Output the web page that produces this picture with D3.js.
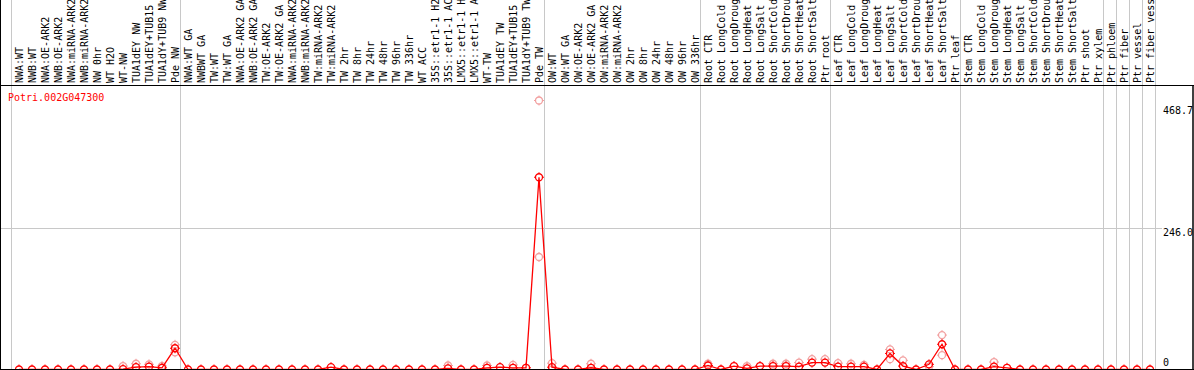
<!DOCTYPE html>
<html>
<head>
<meta charset="utf-8">
<script src="https://cdn.jsdelivr.net/npm/d3@7"></script>
<style>
  html, body { margin: 0; padding: 0; background: #fff; }
  svg { display: block; }
  text { font-family: "DejaVu Sans Mono", monospace; font-size: 10px; }
</style>
</head>
<body>
<div id="main"></div>
<script>
const w = 1194;
const h = 370;

// categories
const labels = [
  'NWA:WT', 'NWB:WT', 'NWA:OE-ARK2', 'NWB:OE-ARK2', 'NWA:miRNA-ARK2', 'NWB:miRNA-ARK2', 'NW 0hr', 'WT H2O', 'WT-NW',
  'TUA1dEY NW', 'TUA1dEY+TUB15 NW', 'TUA1dY+TUB9 NW', 'Pde NW',
  'NWA:WT GA', 'NWBWT GA', 'TW:WT', 'TW:WT GA', 'NWA:OE-ARK2 GA', 'NWB:OE-ARK2 GA', 'TW:OE-ARK2', 'TW:OE-ARK2 GA',
  'NWA:miRNA-ARK2 GA', 'NWB:miRNA-ARK2 GA', 'TW:miRNA-ARK2', 'TW:miRNA-ARK2 GA', 'TW 2hr', 'TW 8hr', 'TW 24hr',
  'TW 48hr', 'TW 96hr', 'TW 336hr', 'WT ACC', '35S::etr1-1 H2O', '35S::etr1-1 ACC', 'LMX5::etr1-1 H2O',
  'LMX5::etr1-1 ACC', 'WT-TW', 'TUA1dEY TW', 'TUA1dEY+TUB15 TW', 'TUA1dY+TUB9 TW', 'Pde TW',
  'OW:WT', 'OW:WT GA', 'OW:OE-ARK2', 'OW:OE-ARK2 GA', 'OW:miRNA-ARK2', 'OW:miRNA-ARK2 GA', 'OW 2hr', 'OW 8hr',
  'OW 24hr', 'OW 48hr', 'OW 96hr', 'OW 336hr',
  'Root CTR', 'Root LongCold', 'Root LongDrought', 'Root LongHeat', 'Root LongSalt', 'Root ShortCold',
  'Root ShortDrought', 'Root ShortHeat', 'Root ShortSalt', 'Ptr root',
  'Leaf CTR', 'Leaf LongCold', 'Leaf LongDrought', 'Leaf LongHeat', 'Leaf LongSalt', 'Leaf ShortCold',
  'Leaf ShortDrought', 'Leaf ShortHeat', 'Leaf ShortSalt', 'Ptr leaf',
  'Stem CTR', 'Stem LongCold', 'Stem LongDrought', 'Stem LongHeat', 'Stem LongSalt', 'Stem ShortCold',
  'Stem ShortDrought', 'Stem ShortHeat', 'Stem ShortSalt', 'Ptr shoot', 'Ptr xylem',
  'Ptr phloem', 'Ptr fiber', 'Ptr vessel', 'Ptr fiber vessel'
];

// index where each group starts (last entry = end)
const groupBreaks = [0, 13, 41, 53, 63, 73, 84, 85, 86, 87, 88];

// mean expression
const means = [
  0, 0, 0, 0, 0, 0, 0, 0, 0.5, 4, 5, 3, 37,
  0, 0, 0, 0, 0, 0, 0, 0, 0, 0, 0, 4, 0, 0, 0, 0, 0, 0, 0, 0, 2, 0, 0, 3, 4, 3, 3, 335,
  4, 0, 0, 3, 0, 0, 0, 0, 0, 0, 0, 0,
  7, 0, 6, 2, 6, 6, 6, 5, 12, 12,
  5, 5, 5, 0, 28, 6, 0, 9, 44, 0,
  0, 0, 5, 3, 0, 0, 0, 0, 0, 0, 0,
  0, 0, 0, 0
];

// replicate values that stand apart from the mean: [index, value]
const reps = [
  [8, 6], [9, 10], [10, 9], [11, 6], [12, 43], [12, 30],
  [33, 7], [36, 7], [38, 8],
  [40, 468.7], [40, 196], [41, 11], [41, 0], [44, 10],
  [53, 10], [56, 6], [58, 10], [59, 10], [60, 12], [61, 18], [62, 18],
  [63, 11], [64, 10], [65, 8], [67, 35], [67, 18], [68, 16], [70, 5],
  [71, 60], [71, 25], [75, 13]
];

const yTicks = [0, 246.0, 468.7];
const title = 'Potri.002G047300';

const svg = d3.select('#main')
  .append('svg')
  .attr('width', w)
  .attr('height', h);

const x = d3.scaleLinear().domain([0, 87]).range([19, 1150]);
const colEdge = (i) => x(i) - 8.5;
const y = d3.scaleLinear().domain([0, 468.7]).range([369.5, 100.5]);

// group separators
svg.selectAll('line.sep')
  .data(groupBreaks)
  .enter()
  .append('line')
  .attr('class', 'sep')
  .attr('x1', d => Math.round(colEdge(d)) + 0.5)
  .attr('x2', d => Math.round(colEdge(d)) + 0.5)
  .attr('y1', 0)
  .attr('y2', h)
  .attr('stroke', '#c8c8c8');

// horizontal grid (middle tick only)
svg.append('line')
  .attr('x1', 1)
  .attr('x2', 1162)
  .attr('y1', Math.round(y(246.0)) + 0.5)
  .attr('y2', Math.round(y(246.0)) + 0.5)
  .attr('stroke', '#c8c8c8');

// column labels
svg.selectAll('text.lab')
  .data(labels)
  .enter()
  .append('text')
  .attr('class', 'lab')
  .attr('transform', (d, i) => `translate(${x(i) + 3.5}, 83) rotate(-90)`)
  .attr('fill', '#000')
  .text(d => d);

// frame
svg.append('line').attr('x1', 0).attr('x2', w).attr('y1', 85.5).attr('y2', 85.5).attr('stroke', '#000');
svg.append('line').attr('x1', 0.5).attr('x2', 0.5).attr('y1', 0).attr('y2', h).attr('stroke', '#000');
svg.append('line').attr('x1', 1193).attr('x2', 1193).attr('y1', 85.5).attr('y2', h).attr('stroke', '#000').attr('stroke-width', 1.5);

// title
svg.append('text')
  .attr('x', 8)
  .attr('y', 101)
  .attr('fill', '#ff0000')
  .text(title);

// y labels
svg.selectAll('text.yl')
  .data(yTicks)
  .enter()
  .append('text')
  .attr('class', 'yl')
  .attr('x', 1163)
  .attr('y', d => d === 0 ? y(d) - 3.5 : (d === 468.7 ? y(d) + 13 : y(d) + 7.5))
  .attr('fill', '#000')
  .text(d => d === 0 ? '0' : d.toFixed(1));

const marker = (g, cx, cy, color) => {
  g.append('circle')
    .attr('cx', cx).attr('cy', cy).attr('r', 3.5)
    .attr('fill', 'none').attr('stroke', color).attr('stroke-width', 1.3);
  [[0, -1], [0, 1], [-1, 0], [1, 0]].forEach(([dx, dy]) => {
    g.append('line')
      .attr('x1', cx + dx * 3.5).attr('y1', cy + dy * 3.5)
      .attr('x2', cx + dx * 5).attr('y2', cy + dy * 5)
      .attr('stroke', color).attr('stroke-width', 1);
  });
};

// replicate markers
const repG = svg.append('g');
reps.forEach(([i, v]) => marker(repG, x(i), y(v), '#f2a0a0'));

// mean line
svg.append('path')
  .datum(means)
  .attr('d', d3.line().x((d, i) => x(i)).y(d => y(d)))
  .attr('fill', 'none')
  .attr('stroke', '#ff0000')
  .attr('stroke-width', 1.3);

const meanG = svg.append('g');
means.forEach((v, i) => marker(meanG, x(i), y(v), '#ff0000'));

// bottom axis line
svg.append('line').attr('x1', 0).attr('x2', w).attr('y1', 369.5).attr('y2', 369.5).attr('stroke', '#000');
</script>
</body>
</html>
